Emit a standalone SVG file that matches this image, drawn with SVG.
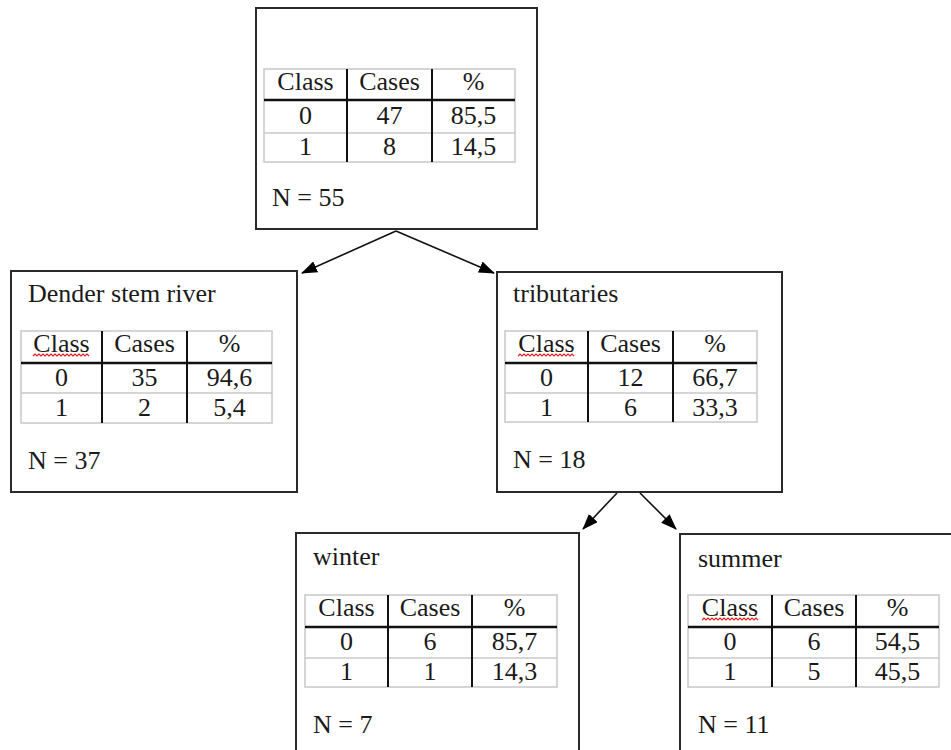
<svg xmlns="http://www.w3.org/2000/svg" width="951" height="750" viewBox="0 0 951 750">
  <defs>
    <marker id="arrow" markerWidth="16" markerHeight="12" refX="15" refY="6" orient="auto" markerUnits="userSpaceOnUse">
      <path d="M0,0 L16,6 L0,12 Z" fill="#000"/>
    </marker>
  </defs>
  <style>
    text { font-family: "Liberation Serif", "Times New Roman", serif; font-size: 26px; fill: #1a1a1a; }
    .c { text-anchor: middle; }
    .box { fill: #fff; stroke: #2a2a2a; stroke-width: 2; }
    .grid { stroke: #c8c8c8; stroke-width: 1.5; fill: none; }
    .col { stroke: #111; stroke-width: 2; }
    .head { stroke: #111; stroke-width: 2.5; }
    .squiggle { stroke: #e02020; stroke-width: 1.2; fill: none; }
    .edge { stroke: #111; stroke-width: 1.6; fill: none; marker-end: url(#arrow); }
  </style>

  <rect width="951" height="750" fill="#fff"/>

  <!-- connectors -->
  <g id="connectors">
    <line class="edge" x1="396" y1="231" x2="302" y2="273"/>
    <line class="edge" x1="396" y1="231" x2="494" y2="273"/>
    <line class="edge" x1="617" y1="493" x2="583" y2="529"/>
    <line class="edge" x1="640" y1="493" x2="676" y2="529"/>
  </g>

  <!-- root node -->
  <g id="root">
    <rect class="box" x="256" y="8" width="281" height="221"/>
    <rect class="grid" x="264" y="69" width="251" height="93"/>
    <line class="grid" x1="264" y1="133" x2="515" y2="133"/>
    <line class="head" x1="264" y1="100" x2="515" y2="100"/>
    <line class="col" x1="347" y1="69" x2="347" y2="162"/>
    <line class="col" x1="432" y1="69" x2="432" y2="162"/>
    <text class="c" x="305.5" y="90">Class</text>
    <text class="c" x="389.5" y="90">Cases</text>
    <text class="c" x="473.5" y="90">%</text>
    <text class="c" x="305.5" y="124">0</text>
    <text class="c" x="389.5" y="124">47</text>
    <text class="c" x="473.5" y="124">85,5</text>
    <text class="c" x="305.5" y="155">1</text>
    <text class="c" x="389.5" y="155">8</text>
    <text class="c" x="473.5" y="155">14,5</text>
    <text x="272" y="206">N = 55</text>
  </g>

  <!-- left child: Dender stem river -->
  <g id="dender">
    <rect class="box" x="11" y="271" width="286" height="221"/>
    <text x="28" y="302">Dender stem river</text>
    <rect class="grid" x="21" y="331" width="251" height="92"/>
    <line class="grid" x1="21" y1="393" x2="272" y2="393"/>
    <line class="head" x1="21" y1="363" x2="272" y2="363"/>
    <line class="col" x1="102" y1="331" x2="102" y2="423"/>
    <line class="col" x1="187" y1="331" x2="187" y2="423"/>
    <text class="c" x="61.5" y="352">Class</text>
    <path class="squiggle" d="M33,356 l2,-2 l2,2 l2,-2 l2,2 l2,-2 l2,2 l2,-2 l2,2 l2,-2 l2,2 l2,-2 l2,2 l2,-2 l2,2 l2,-2 l2,2 l2,-2 l2,2 l2,-2 l2,2 l2,-2 l2,2 l2,-2 l2,2 l2,-2 l2,2 l2,-2 l2,2"/>
    <text class="c" x="144.5" y="352">Cases</text>
    <text class="c" x="229.5" y="352">%</text>
    <text class="c" x="61.5" y="386">0</text>
    <text class="c" x="144.5" y="386">35</text>
    <text class="c" x="229.5" y="386">94,6</text>
    <text class="c" x="61.5" y="416">1</text>
    <text class="c" x="144.5" y="416">2</text>
    <text class="c" x="229.5" y="416">5,4</text>
    <text x="28" y="469">N = 37</text>
  </g>

  <!-- right child: tributaries -->
  <g id="tributaries">
    <rect class="box" x="497" y="272" width="285" height="220"/>
    <text x="513" y="302">tributaries</text>
    <rect class="grid" x="505" y="331" width="252" height="91"/>
    <line class="grid" x1="505" y1="393" x2="757" y2="393"/>
    <line class="head" x1="505" y1="363" x2="757" y2="363"/>
    <line class="col" x1="588" y1="331" x2="588" y2="422"/>
    <line class="col" x1="673" y1="331" x2="673" y2="422"/>
    <text class="c" x="546.5" y="352">Class</text>
    <path class="squiggle" d="M518,356 l2,-2 l2,2 l2,-2 l2,2 l2,-2 l2,2 l2,-2 l2,2 l2,-2 l2,2 l2,-2 l2,2 l2,-2 l2,2 l2,-2 l2,2 l2,-2 l2,2 l2,-2 l2,2 l2,-2 l2,2 l2,-2 l2,2 l2,-2 l2,2 l2,-2 l2,2"/>
    <text class="c" x="630.5" y="352">Cases</text>
    <text class="c" x="715" y="352">%</text>
    <text class="c" x="546.5" y="386">0</text>
    <text class="c" x="630.5" y="386">12</text>
    <text class="c" x="715" y="386">66,7</text>
    <text class="c" x="546.5" y="416">1</text>
    <text class="c" x="630.5" y="416">6</text>
    <text class="c" x="715" y="416">33,3</text>
    <text x="513" y="468">N = 18</text>
  </g>

  <!-- grandchild: winter -->
  <g id="winter">
    <rect class="box" x="296" y="533" width="283" height="240"/>
    <text x="313" y="565">winter</text>
    <rect class="grid" x="305" y="595" width="252" height="92"/>
    <line class="grid" x1="305" y1="658" x2="557" y2="658"/>
    <line class="head" x1="305" y1="627" x2="557" y2="627"/>
    <line class="col" x1="388" y1="595" x2="388" y2="687"/>
    <line class="col" x1="472" y1="595" x2="472" y2="687"/>
    <text class="c" x="346.5" y="616">Class</text>
    <text class="c" x="430" y="616">Cases</text>
    <text class="c" x="514.5" y="616">%</text>
    <text class="c" x="346.5" y="650">0</text>
    <text class="c" x="430" y="650">6</text>
    <text class="c" x="514.5" y="650">85,7</text>
    <text class="c" x="346.5" y="680">1</text>
    <text class="c" x="430" y="680">1</text>
    <text class="c" x="514.5" y="680">14,3</text>
    <text x="313" y="733">N = 7</text>
  </g>

  <!-- grandchild: summer -->
  <g id="summer">
    <rect class="box" x="680" y="534" width="300" height="240"/>
    <text x="698" y="567">summer</text>
    <rect class="grid" x="688" y="595" width="251" height="92"/>
    <line class="grid" x1="688" y1="658" x2="939" y2="658"/>
    <line class="head" x1="688" y1="627" x2="939" y2="627"/>
    <line class="col" x1="772" y1="595" x2="772" y2="687"/>
    <line class="col" x1="856" y1="595" x2="856" y2="687"/>
    <text class="c" x="730" y="616">Class</text>
    <path class="squiggle" d="M702,620 l2,-2 l2,2 l2,-2 l2,2 l2,-2 l2,2 l2,-2 l2,2 l2,-2 l2,2 l2,-2 l2,2 l2,-2 l2,2 l2,-2 l2,2 l2,-2 l2,2 l2,-2 l2,2 l2,-2 l2,2 l2,-2 l2,2 l2,-2 l2,2 l2,-2 l2,2"/>
    <text class="c" x="814" y="616">Cases</text>
    <text class="c" x="897.5" y="616">%</text>
    <text class="c" x="730" y="650">0</text>
    <text class="c" x="814" y="650">6</text>
    <text class="c" x="897.5" y="650">54,5</text>
    <text class="c" x="730" y="680">1</text>
    <text class="c" x="814" y="680">5</text>
    <text class="c" x="897.5" y="680">45,5</text>
    <text x="698" y="733">N = 11</text>
  </g>
</svg>
